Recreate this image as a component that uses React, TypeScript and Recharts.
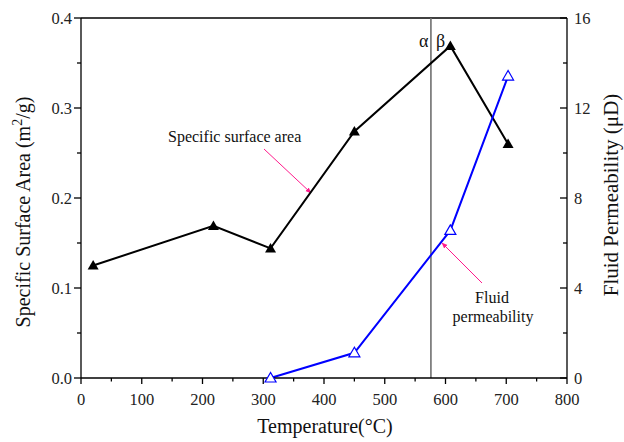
import React from 'react';
import { ComposedChart, Line, XAxis, YAxis, ReferenceLine } from 'recharts';

// black series: specific surface area (left axis)
const tempSurface = [20, 218, 312, 450, 608, 703];
const surfaceArea = [0.125, 0.169, 0.144, 0.274, 0.369, 0.26];

// blue series: fluid permeability (right axis)
const tempPerm = [312, 450, 608, 703];
const permeability = [0, 1.12, 6.56, 13.42];

const xTicks = [0, 50, 100, 150, 200, 250, 300, 350, 400, 450, 500, 550, 600, 650, 700, 750, 800];
const leftTicks = [0, 0.05, 0.1, 0.15, 0.2, 0.25, 0.3, 0.35, 0.4];
const rightTicks = [0, 2, 4, 6, 8, 10, 12, 14, 16];
const phaseTemp = 576;

const surfaceData = tempSurface.map((t, i) => ({ t, area: surfaceArea[i] }));
const permData = tempPerm.map((t, i) => ({ t, perm: permeability[i] }));

const FONT = '"Liberation Serif", "Times New Roman", serif';
const PINK = '#ff1a8c';

const XTick = (props: any) => {
  const { x, y, payload } = props;
  const major = payload.value % 100 === 0;
  return (
    <g>
      <line x1={x} y1={y} x2={x} y2={y + (major ? 6 : 3.5)} stroke="#000" strokeWidth={1.3} />
      {major && (
        <text x={x} y={y + 27} textAnchor="middle" fontSize={16.5} fontFamily={FONT} fill="#222">
          {payload.value}
        </text>
      )}
    </g>
  );
};

const LeftTick = (props: any) => {
  const { x, y, payload } = props;
  const v = payload.value;
  const major = Math.abs(v * 10 - Math.round(v * 10)) < 1e-6;
  return (
    <g>
      <line x1={x} y1={y} x2={x - (major ? 7 : 4)} y2={y} stroke="#000" strokeWidth={1.3} />
      {major && (
        <text x={x - 9} y={y + 5.5} textAnchor="end" fontSize={16.5} fontFamily={FONT} fill="#222">
          {v.toFixed(1)}
        </text>
      )}
    </g>
  );
};

const RightTick = (props: any) => {
  const { x, y, payload } = props;
  const major = payload.value % 4 === 0;
  return (
    <g>
      <line x1={x} y1={y} x2={x - (major ? 7 : 4)} y2={y} stroke="#000" strokeWidth={1.3} />
      {major && (
        <text x={x + 7} y={y + 5.5} textAnchor="start" fontSize={16.5} fontFamily={FONT} fill="#222">
          {payload.value}
        </text>
      )}
    </g>
  );
};

const FilledTri = (props: any) => {
  const { cx, cy } = props;
  if (cx == null || cy == null) return null;
  return <polygon points={`${cx},${cy - 5.5} ${cx - 5.5},${cy + 4} ${cx + 5.5},${cy + 4}`} fill="#000" />;
};

const OpenTri = (props: any) => {
  const { cx, cy } = props;
  if (cx == null || cy == null) return null;
  return (
    <polygon
      points={`${cx},${cy - 5.5} ${cx - 5.5},${cy + 4} ${cx + 5.5},${cy + 4}`}
      fill="#fff"
      stroke="#0000ff"
      strokeWidth={1.2}
    />
  );
};

export default function App() {
  return (
    <div style={{ position: 'absolute', left: 0, top: 0, width: 624, height: 442, background: '#fff' }}>
      <ComposedChart width={624} height={442} margin={{ top: 18, right: 0, bottom: 0, left: 0 }}>
        <defs>
          <marker id="pinkHead" viewBox="0 0 10 10" refX="9" refY="5" markerWidth="6" markerHeight="6" orient="auto">
            <path d="M0,1 L10,5 L0,9 z" fill={PINK} />
          </marker>
        </defs>
        <XAxis
          type="number"
          dataKey="t"
          domain={[0, 800]}
          ticks={xTicks}
          interval={0}
          height={64}
          tickSize={0}
          tickMargin={0}
          tick={<XTick />}
          axisLine={{ stroke: '#000', strokeWidth: 1.3 }}
          allowDuplicatedCategory={false}
        />
        <YAxis
          yAxisId="left"
          domain={[0, 0.4]}
          ticks={leftTicks}
          interval={0}
          width={81}
          tickSize={0}
          tickMargin={0}
          tick={<LeftTick />}
          axisLine={{ stroke: '#000', strokeWidth: 1.3 }}
        />
        <YAxis
          yAxisId="right"
          orientation="right"
          domain={[0, 16]}
          ticks={rightTicks}
          interval={0}
          width={57}
          tickSize={0}
          tickMargin={0}
          tick={<RightTick />}
          axisLine={{ stroke: '#000', strokeWidth: 1.3 }}
        />
        <ReferenceLine yAxisId="left" y={0.4} stroke="#000" strokeWidth={1.3} />
        <ReferenceLine yAxisId="left" x={phaseTemp} stroke="#707070" strokeWidth={1.6} />
        <Line
          yAxisId="left"
          data={surfaceData}
          dataKey="area"
          stroke="#000"
          strokeWidth={2}
          dot={<FilledTri />}
          isAnimationActive={false}
        />
        <Line
          yAxisId="right"
          data={permData}
          dataKey="perm"
          stroke="#0000ff"
          strokeWidth={2}
          dot={<OpenTri />}
          isAnimationActive={false}
        />

        {/* annotations */}
        <text x={168} y={142} fontSize={16} fontFamily={FONT} fill="#111">Specific surface area</text>
        <line x1={264} y1={149} x2={311} y2={193} stroke={PINK} strokeWidth={1} markerEnd="url(#pinkHead)" />
        <text x={492} y={303} textAnchor="middle" fontSize={16} fontFamily={FONT} fill="#111">Fluid</text>
        <text x={493} y={322} textAnchor="middle" fontSize={16} fontFamily={FONT} fill="#111">permeability</text>
        <line x1={482} y1={283} x2={442} y2={243} stroke={PINK} strokeWidth={1} markerEnd="url(#pinkHead)" />
        <text x={428.5} y={47} textAnchor="end" fontSize={18} fontFamily={FONT} fill="#111">α</text>
        <text x={436} y={47} textAnchor="start" fontSize={18} fontFamily={FONT} fill="#111">β</text>

        {/* axis titles */}
        <text transform="translate(30,212) rotate(-90)" textAnchor="middle" fontSize={20} fontFamily={FONT} fill="#111">
          Specific Surface Area (m<tspan dy={-8} fontSize={14}>2</tspan>
          <tspan dy={8}>/g)</tspan>
        </text>
        <text transform="translate(618,195) rotate(-90)" textAnchor="middle" fontSize={21} fontFamily={FONT} fill="#111">
          Fluid Permeability (μD)
        </text>
        <text x={325} y={433} textAnchor="middle" fontSize={20} fontFamily={FONT} fill="#111">
          Temperature(°C)
        </text>
      </ComposedChart>
    </div>
  );
}
